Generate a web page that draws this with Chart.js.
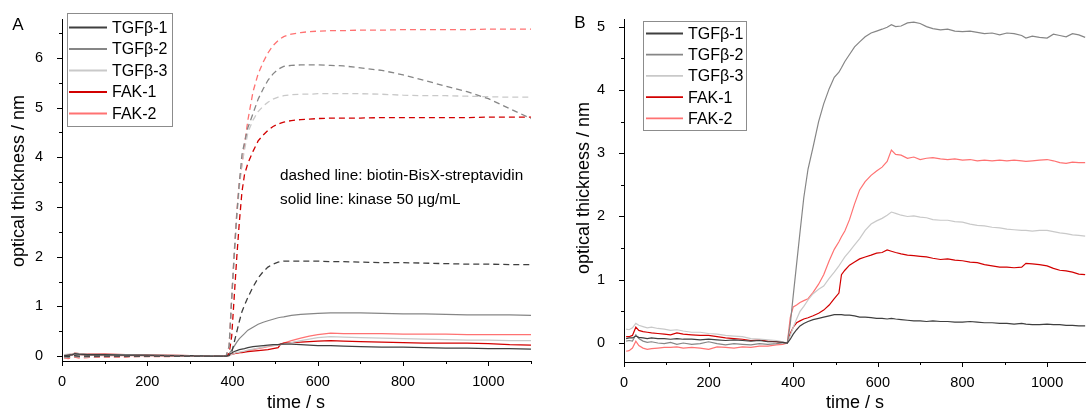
<!DOCTYPE html>
<html>
<head>
<meta charset="utf-8">
<script src="https://cdn.jsdelivr.net/npm/chart.js@4.4.1/dist/chart.umd.min.js"></script>
<style>
  html, body { margin: 0; padding: 0; background: #fff; }
  #wrap { position: relative; width: 1086px; height: 412px; overflow: hidden; }
  canvas { position: absolute; top: 0; }
</style>
</head>
<body>
<div id="wrap">
  <canvas id="chartA" width="545" height="412" style="left:0"></canvas>
  <canvas id="chartB" width="541" height="412" style="left:545px"></canvas>
</div>
<script>
// ---- data: panel A (dashed = biotin-BisX-streptavidin, solid = kinase 50 µg/mL) ----
const seriesLabels = ['TGFβ-1', 'TGFβ-2', 'TGFβ-3', 'FAK-1', 'FAK-2'];
const seriesColors = ['#3f3f3f', '#868686', '#c9c9c9', '#d20000', '#ff7272'];

const timeA = [5, 15, 25, 30, 40, 60, 100, 150, 200, 250, 300, 350, 385,
  392, 398, 404, 410, 416, 422, 428, 436, 448, 460, 472, 483, 495, 507, 513, 520, 538,
  560, 580, 600, 630, 660, 700, 750, 800, 850, 900, 950, 1000, 1050, 1100];

const solidTGF1 = [0.01, 0.02, 0.03, 0.05, 0.04, 0.03, 0.03, 0.02, 0.02, 0.01, 0.01, 0.0, 0.0,
  0.03, 0.06, 0.09, 0.11, 0.13, 0.14, 0.15, 0.17, 0.19, 0.2, 0.21, 0.22, 0.23, 0.23, 0.24, 0.24, 0.24,
  0.23, 0.22, 0.21, 0.21, 0.2, 0.19, 0.18, 0.18, 0.17, 0.16, 0.16, 0.15, 0.15, 0.14];
const solidTGF2 = [0.0, 0.01, 0.02, 0.04, 0.03, 0.02, 0.02, 0.02, 0.01, 0.01, 0.0, 0.0, 0.0,
  0.05, 0.12, 0.2, 0.28, 0.35, 0.4, 0.45, 0.52, 0.58, 0.64, 0.68, 0.71, 0.74, 0.77, 0.78, 0.79, 0.82,
  0.84, 0.85, 0.86, 0.87, 0.87, 0.87, 0.86, 0.85, 0.85, 0.84, 0.83, 0.83, 0.83, 0.82];
const solidTGF3 = [0.03, 0.04, 0.04, 0.06, 0.05, 0.04, 0.03, 0.03, 0.02, 0.02, 0.01, 0.01, 0.0,
  0.01, 0.03, 0.05, 0.07, 0.08, 0.09, 0.1, 0.12, 0.14, 0.16, 0.18, 0.2, 0.21, 0.22, 0.23, 0.24, 0.27,
  0.31, 0.34, 0.37, 0.39, 0.38, 0.37, 0.36, 0.35, 0.34, 0.33, 0.32, 0.32, 0.31, 0.31];
const solidFAK1 = [0.02, 0.03, 0.04, 0.06, 0.05, 0.04, 0.04, 0.03, 0.02, 0.02, 0.01, 0.01, 0.0,
  0.02, 0.04, 0.05, 0.06, 0.07, 0.07, 0.08, 0.09, 0.1, 0.11, 0.12, 0.13, 0.15, 0.17, 0.24, 0.26, 0.27,
  0.28, 0.29, 0.3, 0.31, 0.3, 0.29, 0.28, 0.27, 0.26, 0.26, 0.26, 0.25, 0.23, 0.22];
const solidFAK2 = [-0.01, 0.0, 0.02, 0.04, 0.03, 0.02, 0.01, 0.01, 0.01, 0.0, 0.0, 0.0, 0.0,
  0.01, 0.03, 0.05, 0.06, 0.07, 0.08, 0.09, 0.11, 0.13, 0.15, 0.17, 0.19, 0.21, 0.23, 0.24, 0.26, 0.31,
  0.36, 0.4, 0.43, 0.46, 0.45, 0.45, 0.45, 0.44, 0.44, 0.44, 0.43, 0.43, 0.43, 0.43];

const dashTGF1 = [0.0, -0.01, 0.0, 0.01, 0.0, 0.0, 0.0, 0.0, 0.0, 0.0, 0.0, 0.0, 0.0,
  0.01, 0.07, 0.28, 0.49, 0.7, 0.89, 1.02, 1.18, 1.39, 1.57, 1.7, 1.79, 1.85, 1.89, 1.9, 1.91, 1.91,
  1.91, 1.91, 1.91, 1.9, 1.9, 1.89, 1.88, 1.88, 1.87, 1.86, 1.85, 1.85, 1.84, 1.84];
const dashTGF2 = [-0.02, -0.02, -0.01, 0.0, -0.01, -0.01, 0.0, 0.0, 0.0, 0.0, 0.0, 0.0, 0.0,
  0.2, 1.15, 2.05, 2.85, 3.5, 4.05, 4.3, 4.6, 4.88, 5.17, 5.38, 5.55, 5.68, 5.77, 5.8, 5.83, 5.85,
  5.86, 5.86, 5.86, 5.85, 5.84, 5.8, 5.75, 5.66, 5.55, 5.43, 5.32, 5.18, 4.98, 4.78];
const dashTGF3 = [-0.03, -0.03, -0.02, -0.01, -0.02, -0.02, -0.01, -0.01, -0.01, 0.0, 0.0, 0.0, 0.0,
  0.2, 1.15, 2.0, 2.8, 3.4, 3.85, 4.15, 4.5, 4.75, 4.92, 5.03, 5.11, 5.17, 5.21, 5.22, 5.24, 5.26,
  5.27, 5.27, 5.28, 5.28, 5.28, 5.28, 5.27, 5.25, 5.24, 5.24, 5.23, 5.22, 5.21, 5.21];
const dashFAK1 = [-0.02, -0.03, -0.02, -0.01, -0.02, -0.02, -0.01, -0.01, 0.0, 0.0, 0.0, 0.0, 0.0,
  0.05, 0.4, 1.2, 2.0, 2.7, 3.3, 3.65, 3.88, 4.12, 4.33, 4.45, 4.54, 4.62, 4.67, 4.69, 4.71, 4.74,
  4.76, 4.77, 4.78, 4.79, 4.79, 4.79, 4.8, 4.8, 4.8, 4.8, 4.8, 4.81, 4.81, 4.81];
const dashFAK2 = [-0.04, -0.05, -0.03, -0.02, -0.04, -0.03, -0.02, -0.02, -0.01, -0.01, 0.0, 0.0, 0.0,
  0.2, 1.2, 2.1, 2.9, 3.5, 3.85, 4.25, 4.75, 5.32, 5.68, 5.92, 6.1, 6.25, 6.35, 6.39, 6.43, 6.48,
  6.51, 6.53, 6.54, 6.55, 6.55, 6.56, 6.56, 6.57, 6.57, 6.57, 6.57, 6.58, 6.58, 6.58];

// ---- data: panel B ----
const timeB = [5, 12, 20, 28, 35, 45, 55, 65, 80, 95, 110, 125, 140, 160, 180, 200, 220, 240, 260, 280,
  300, 320, 340, 360, 375, 386, 393, 400, 408, 416, 425, 435, 447, 460, 472, 485, 497, 508, 514, 522,
  533, 545, 557, 570, 584, 597, 610, 622, 632, 642, 655, 670, 685, 700, 715, 730, 748, 765, 782, 800,
  818, 835, 852, 870, 888, 905, 922, 940, 950, 965, 982, 1000, 1015, 1030, 1045, 1060, 1075, 1090];

const bTGF1 = [0.07, 0.08, 0.08, 0.11, 0.09, 0.08, 0.07, 0.08, 0.07, 0.07, 0.06, 0.07, 0.06, 0.06, 0.05,
  0.06, 0.05, 0.04, 0.05, 0.04, 0.03, 0.04, 0.02, 0.02, 0.01, 0.0,
  0.06, 0.14, 0.21, 0.27, 0.31, 0.34, 0.37, 0.39, 0.41, 0.43, 0.45, 0.45, 0.45, 0.44, 0.44, 0.43, 0.41,
  0.41, 0.4, 0.39, 0.39, 0.38, 0.39, 0.38, 0.37, 0.36, 0.35, 0.35, 0.34, 0.35, 0.34, 0.34, 0.33, 0.33,
  0.34, 0.33, 0.32, 0.32, 0.31, 0.31, 0.3, 0.31, 0.3, 0.29, 0.29, 0.3, 0.29, 0.29, 0.28, 0.28, 0.27, 0.27];
const bTGF2 = [0.03, 0.04, 0.03, 0.13, 0.07, 0.03, 0.01, 0.02, 0.0, -0.01, 0.01, -0.02, 0.0, -0.02, -0.01,
  0.02, -0.01, -0.03, -0.01, -0.02, -0.03, -0.01, -0.02, -0.01, 0.0, 0.0,
  0.3, 0.75, 1.25, 1.75, 2.3, 2.75, 3.1, 3.5, 3.78, 4.02, 4.2, 4.28, 4.35, 4.45, 4.56, 4.68, 4.76,
  4.84, 4.9, 4.93, 4.96, 4.99, 5.03, 5.0, 5.01, 5.06, 5.07, 5.05, 5.0, 4.97, 4.95, 4.96, 4.93, 4.92,
  4.93, 4.91, 4.89, 4.9, 4.87, 4.9, 4.89, 4.86, 4.82, 4.85, 4.83, 4.82, 4.88, 4.86, 4.84, 4.89, 4.87, 4.83];
const bTGF3 = [0.22, 0.21, 0.24, 0.31, 0.28, 0.26, 0.24, 0.25, 0.23, 0.22, 0.2, 0.21, 0.19, 0.17, 0.17,
  0.15, 0.14, 0.12, 0.11, 0.1, 0.07, 0.06, 0.05, 0.04, 0.02, 0.0,
  0.12, 0.25, 0.38, 0.5, 0.58, 0.68, 0.78, 0.85, 0.9, 1.02, 1.12, 1.22, 1.28, 1.36, 1.45, 1.55, 1.65,
  1.78, 1.88, 1.93, 1.97, 2.02, 2.07, 2.05, 2.02, 2.0, 2.01, 1.99, 1.98, 1.95, 1.94, 1.94, 1.92, 1.91,
  1.88, 1.86, 1.85, 1.83, 1.82, 1.8, 1.79, 1.78, 1.78, 1.77, 1.78, 1.78, 1.76, 1.74, 1.73, 1.71, 1.7, 1.69];
const bFAK1 = [0.1, 0.1, 0.12, 0.25, 0.2, 0.18, 0.17, 0.16, 0.15, 0.14, 0.13, 0.16, 0.14, 0.13, 0.12,
  0.12, 0.1, 0.08, 0.07, 0.06, 0.04, 0.05, 0.03, 0.02, 0.01, 0.0,
  0.15, 0.25, 0.32, 0.35, 0.38, 0.4, 0.43, 0.47, 0.52, 0.6, 0.7, 0.79, 1.08, 1.15, 1.23, 1.28, 1.33,
  1.36, 1.39, 1.42, 1.43, 1.47, 1.45, 1.43, 1.41, 1.39, 1.38, 1.37, 1.36, 1.34, 1.32, 1.33, 1.31, 1.3,
  1.28, 1.27, 1.24, 1.22, 1.2, 1.2, 1.19, 1.2, 1.26, 1.25, 1.24, 1.22, 1.18, 1.15, 1.14, 1.12, 1.09, 1.08];
const bFAK2 = [-0.13, -0.12, -0.08, 0.03, -0.04, -0.08, -0.1, -0.09, -0.08, -0.07, -0.07, -0.06, -0.08, -0.07, -0.08,
  -0.1, -0.06, -0.07, -0.08, -0.06, -0.07, -0.05, -0.05, -0.03, -0.02, 0.0,
  0.4, 0.57, 0.6, 0.64, 0.67, 0.7, 0.8, 0.93, 1.08, 1.3, 1.48, 1.6, 1.68, 1.77, 1.95, 2.2, 2.42,
  2.55, 2.65, 2.72, 2.78, 2.87, 3.05, 2.98, 2.97, 2.92, 2.94, 2.9, 2.92, 2.93, 2.91, 2.9, 2.91, 2.89,
  2.9, 2.88, 2.89, 2.88, 2.89, 2.88, 2.89, 2.88, 2.87, 2.88, 2.89, 2.9, 2.88, 2.85, 2.84, 2.86, 2.85, 2.85];

// ---- ticks ----
const xTicksMajor = [0, 200, 400, 600, 800, 1000];
const xTicksMinor = [100, 300, 500, 700, 900, 1100];
const yTicksA = [0, 1, 2, 3, 4, 5, 6];
const yTicksMinorA = [0.5, 1.5, 2.5, 3.5, 4.5, 5.5, 6.5];
const yTicksB = [0, 1, 2, 3, 4, 5];
const yTicksMinorB = [0.5, 1.5, 2.5, 3.5, 4.5];

const FONT = "'Liberation Sans', Arial, sans-serif";

function toPoints(times, values) {
    return times.map((t, i) => ({ x: t, y: values[i] }));
}

function lineSet(label, color, times, values, dashed) {
    return {
        label: label,
        data: toPoints(times, values),
        borderColor: color,
        borderWidth: dashed ? 1.3 : 1.2,
        borderDash: dashed ? [6, 4] : [],
        pointRadius: 0,
        tension: 0,
        fill: false
    };
}

// tick marks: major 5px, minor 3px, pointing outwards
const tickMarks = {
    id: 'tickMarks',
    afterDraw(chart, args, o) {
        const { ctx, scales: { x, y } } = chart;
        ctx.save();
        ctx.strokeStyle = '#000';
        ctx.lineWidth = 1;
        ctx.beginPath();
        const mark = (list, len) => list.forEach(v => {
            const px = Math.round(x.getPixelForValue(v)) + 0.5;
            if (px > x.right + 1) return;
            ctx.moveTo(px, y.bottom);
            ctx.lineTo(px, y.bottom + len);
        });
        const markY = (list, len) => list.forEach(v => {
            const py = Math.round(y.getPixelForValue(v)) + 0.5;
            ctx.moveTo(x.left, py);
            ctx.lineTo(x.left - len, py);
        });
        mark(o.xMajor, 5); mark(o.xMinor, 3);
        markY(o.yMajor, 5); markY(o.yMinor, 3);
        ctx.stroke();
        ctx.restore();
    }
};

// legend box in the upper left corner of the plot
const boxLegend = {
    id: 'boxLegend',
    afterDraw(chart, args, o) {
        const ctx = chart.ctx;
        ctx.save();
        ctx.strokeStyle = '#8c8c8c';
        ctx.lineWidth = 1;
        ctx.strokeRect(o.x + 0.5, o.y + 0.5, o.w, o.h);
        ctx.font = `16px ${FONT}`;
        ctx.textBaseline = 'middle';
        ctx.fillStyle = '#000';
        seriesLabels.forEach((lab, i) => {
            const yy = o.row0 + i * o.step;
            ctx.strokeStyle = seriesColors[i];
            ctx.lineWidth = 1.8;
            ctx.beginPath();
            ctx.moveTo(o.lineX1, yy);
            ctx.lineTo(o.lineX2, yy);
            ctx.stroke();
            ctx.fillText(lab, o.textX, yy + 1);
        });
        ctx.restore();
    }
};

// free texts: panel letter, axis titles, notes
const freeText = {
    id: 'freeText',
    afterDraw(chart, args, o) {
        const ctx = chart.ctx;
        o.items.forEach(it => {
            ctx.save();
            ctx.font = `${it.size}px ${FONT}`;
            ctx.fillStyle = '#000';
            ctx.textBaseline = 'middle';
            ctx.textAlign = it.align || 'center';
            ctx.translate(it.x, it.y);
            if (it.rotate) ctx.rotate(-Math.PI / 2);
            ctx.fillText(it.text, 0, 0);
            ctx.restore();
        });
    }
};

function makeChart(id, cfg) {
    return new Chart(document.getElementById(id), {
        type: 'line',
        data: { datasets: cfg.datasets },
        options: {
            responsive: false,
            animation: false,
            devicePixelRatio: 1,
            layout: { padding: cfg.padding },
            plugins: {
                legend: { display: false },
                tooltip: { enabled: false },
                tickMarks: cfg.ticks,
                boxLegend: cfg.legend,
                freeText: { items: cfg.texts }
            },
            scales: {
                x: {
                    type: 'linear',
                    min: 0,
                    max: cfg.xMax,
                    afterFit(s) { s.height = cfg.xHeight; },
                    afterBuildTicks(s) { s.ticks = xTicksMajor.map(v => ({ value: v })); },
                    grid: { display: false },
                    border: { display: true, color: '#000', width: 1 },
                    ticks: {
                        color: '#000', font: { family: FONT, size: 14.5 }, padding: 4,
                        maxRotation: 0, autoSkip: false, callback: v => String(v)
                    }
                },
                y: {
                    type: 'linear',
                    min: cfg.yMin,
                    max: cfg.yMax,
                    afterFit(s) { s.width = cfg.yWidth; },
                    afterBuildTicks(s) { s.ticks = cfg.yTicks.map(v => ({ value: v })); },
                    grid: { display: false },
                    border: { display: true, color: '#000', width: 1 },
                    ticks: { color: '#000', font: { family: FONT, size: 14.5 }, padding: 11, callback: v => String(v) }
                }
            }
        },
        plugins: [tickMarks, boxLegend, freeText]
    });
}

const solidA = [solidTGF1, solidTGF2, solidTGF3, solidFAK1, solidFAK2];
const dashA = [dashTGF1, dashTGF2, dashTGF3, dashFAK1, dashFAK2];
const seriesB = [bTGF1, bTGF2, bTGF3, bFAK1, bFAK2];

makeChart('chartA', {
    datasets: [
        ...dashA.map((v, i) => lineSet(seriesLabels[i] + ' dashed', seriesColors[i], timeA, v, true)),
        ...solidA.map((v, i) => lineSet(seriesLabels[i], seriesColors[i], timeA, v, false))
    ],
    padding: { left: 0, right: 14, top: 14, bottom: 0 },
    xMax: 1100, xHeight: 51,
    yMin: -0.1, yMax: 6.77, yWidth: 62, yTicks: yTicksA,
    ticks: { xMajor: xTicksMajor, xMinor: xTicksMinor, yMajor: yTicksA, yMinor: yTicksMinorA },
    legend: { x: 67, y: 13, w: 105, h: 113, lineX1: 69, lineX2: 107, textX: 112, row0: 27.5, step: 21.5 },
    texts: [
        { text: 'A', x: 18, y: 25, size: 17 },
        { text: 'optical thickness / nm', x: 19, y: 181, size: 18, rotate: true },
        { text: 'time / s', x: 296, y: 403, size: 18 },
        { text: 'dashed line: biotin-BisX-streptavidin', x: 280, y: 176, size: 15.3, align: 'left' },
        { text: 'solid line: kinase 50 µg/mL', x: 280, y: 200, size: 15.3, align: 'left' }
    ]
});

makeChart('chartB', {
    datasets: seriesB.map((v, i) => lineSet(seriesLabels[i], seriesColors[i], timeB, v, false)),
    padding: { left: 0, right: 0, top: 15, bottom: 0 },
    xMax: 1092, xHeight: 50,
    yMin: -0.3, yMax: 5.11, yWidth: 79, yTicks: yTicksB,
    ticks: { xMajor: xTicksMajor, xMinor: xTicksMinor, yMajor: yTicksB, yMinor: yTicksMinorB },
    legend: { x: 98, y: 21, w: 103, h: 109, lineX1: 101, lineX2: 138, textX: 143, row0: 33.5, step: 21.2 },
    texts: [
        { text: 'B', x: 35, y: 23, size: 17 },
        { text: 'optical thickness / nm', x: 39, y: 188, size: 18, rotate: true },
        { text: 'time / s', x: 310, y: 403, size: 18 }
    ]
});
</script>
</body>
</html>
